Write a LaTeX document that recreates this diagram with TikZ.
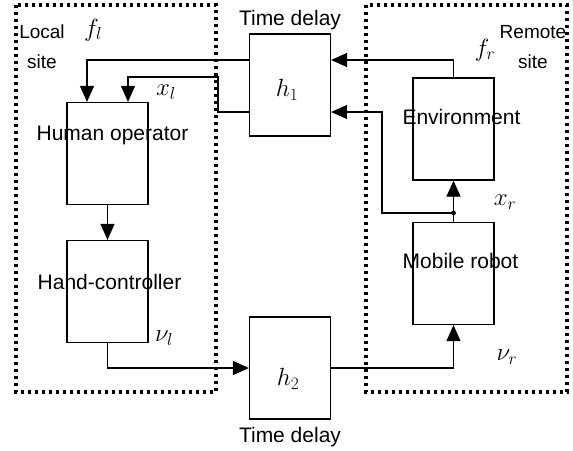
\documentclass[tikz,border=0pt]{standalone}
\usepackage{fontspec}
\setmainfont{Liberation Sans}
\usetikzlibrary{arrows.meta}

\begin{document}
\begin{tikzpicture}[x=1pt,y=-1pt,
  blk/.style={draw, line width=1.2pt, minimum width=81pt, minimum height=102pt, inner sep=0pt},
  txt/.style={font=\fontsize{21}{24}\selectfont},
  sym/.style={font=\fontsize{23}{26}\selectfont},
  arr/.style={line width=1.2pt, -{Triangle[length=16pt,width=14pt]}},
  sitebox/.style={line width=3.3pt, dash pattern=on 3.3pt off 3.7pt}]

\useasboundingbox (0,0) rectangle (573,450);

\draw [sitebox] (16,5) rectangle (216,392);
\draw [sitebox] (366,5) rectangle (567,392);

\node [txt, align=center, font=\fontsize{19}{30}\selectfont] (local) at (42,47) {Local\\site};
\node [txt, align=center, font=\fontsize{19}{30}\selectfont] (remote) at (533,47) {Remote\\site};

\node [blk, label={[txt, xshift=5pt, yshift=18pt]center:Human operator}] (human) at (107.5,153.5) {};
\node [blk, label={[txt, xshift=2pt, yshift=10pt]center:Hand-controller}] (hand) at (107.5,291.5) {};
\node [blk, label={[txt, xshift=8pt, yshift=12pt]center:Environment}] (env) at (453.5,129) {};
\node [blk, label={[txt, xshift=7pt, yshift=13pt]center:Mobile robot}] (robot) at (453.5,273.5) {};

\node [blk, label={[sym, xshift=-3pt, yshift=-5pt]center:$h_1$}] (h1) at (290,85) {};
\node [blk, label={[sym, xshift=-2pt, yshift=-11pt]center:$h_2$}] (h2) at (290,368) {};
\node [txt] (delay1) at (290,20) {Time delay};
\node [txt] (delay2) at (290,437) {Time delay};

\draw [arr] (human) -- (hand);
\draw [arr] (env.north) |- ([yshift=25pt]h1.east);
\draw [arr] ([yshift=25pt]h1.west) -| ([xshift=-20.5pt]human.north);
\draw [arr] ([yshift=-27pt]h1.west) -- ++(-31,0) -- ++(0,-35) -| ([xshift=20.5pt]human.north);
\coordinate (xr) at ([yshift=9pt]robot.north);
\draw [arr] (robot.north) -- (env.south);
\draw [arr] (xr) -- ++(-71.5,0) |- ([yshift=-27pt]h1.east);
\fill (xr) circle (2.4pt);
\draw [arr] (hand.south) |- (h2.west);
\draw [arr] (h2.east) -| (robot.south);

\node [sym] (fl) at (93,30) {$f_l$};
\node [sym] (xl) at (166,92) {$x_l$};
\node [sym] (vl) at (164,338) {$\nu_l$};
\node [sym] (fr) at (485,50) {$f_r$};
\node [sym] (xrl) at (505,202) {$x_r$};
\node [sym] (vr) at (507,357) {$\nu_r$};

\end{tikzpicture}
\end{document}
